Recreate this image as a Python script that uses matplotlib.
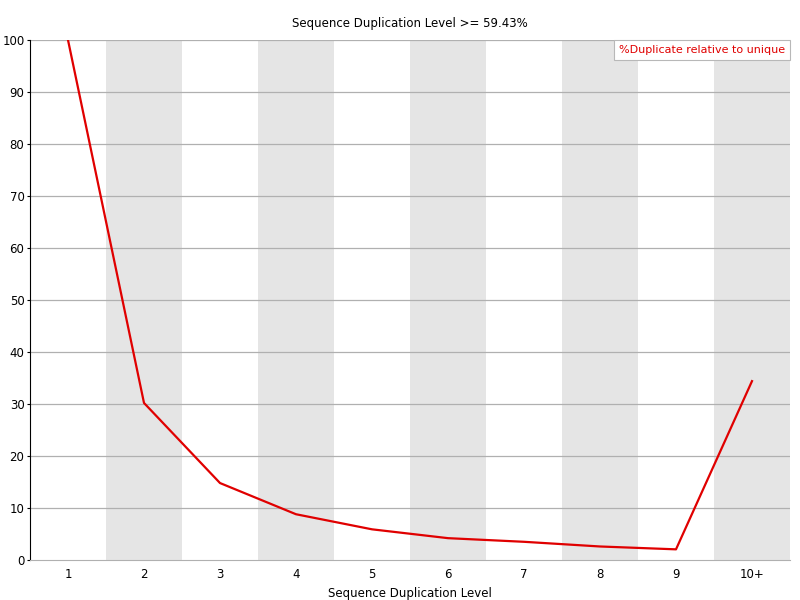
import matplotlib
matplotlib.use("Agg")
import matplotlib.pyplot as plt

categories = ["1", "2", "3", "4", "5", "6", "7", "8", "9", "10+"]
dup_relative = [100.0, 30.2, 14.8, 8.8, 5.9, 4.2, 3.5, 2.6, 2.05, 34.4]
title = "Sequence Duplication Level >= 59.43%"
xlabel = "Sequence Duplication Level"
legend_label = "%Duplicate relative to unique"

plt.rcParams['font.family'] = ['DejaVu Sans']
fig = plt.figure(figsize=(8, 6), dpi=100)
ax = fig.add_axes([30/800, 40/600, 760/800, 520/600])

x = list(range(len(categories)))
for i in x:
    if i % 2 == 1:
        ax.axvspan(i - 0.5, i + 0.5, color="#e5e5e5", zorder=0, lw=0)
for v in range(10, 101, 10):
    ax.axhline(v, color="#b0b0b0", lw=0.9, zorder=1)

ax.plot(x, dup_relative, color="#e00000", lw=1.6, zorder=3)

ax.set_xlim(-0.5, len(categories) - 0.5)
ax.set_ylim(0, 100)
ax.set_xticks(x)
ax.set_xticklabels(categories)
ax.set_yticks(range(0, 101, 10))
ax.tick_params(axis="both", labelsize=8.5, length=0, pad=6)
ax.tick_params(axis="y", length=2, pad=2)
for s in ["top", "right"]:
    ax.spines[s].set_visible(False)
ax.spines["bottom"].set_color("#b0b0b0")
ax.spines["left"].set_color("black")

ax.set_title(title, fontsize=8.5, pad=9)
ax.set_xlabel(xlabel, fontsize=8.5, labelpad=4)

leg = ax.legend([legend_label], loc="upper right", handlelength=0, handletextpad=0,
                fontsize=8, frameon=True, fancybox=False, borderpad=0.45,
                borderaxespad=0.0, labelcolor="#e00000")
for h in leg.legend_handles:
    h.set_visible(False)
leg.get_frame().set_edgecolor("#b8b8b8")
leg.get_frame().set_linewidth(0.8)
leg.get_frame().set_alpha(1.0)

fig.savefig("out.png", dpi=100)
